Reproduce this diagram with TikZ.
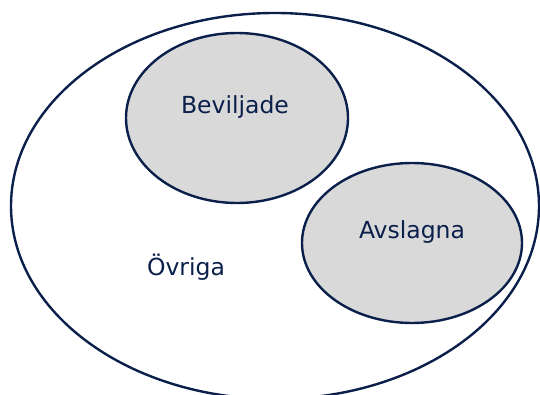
\documentclass[tikz,border=0pt]{standalone}
\usepackage{fontspec}
\setmainfont{DejaVu Sans}
\usepackage{tikz}
\usetikzlibrary{positioning}
\definecolor{navy}{HTML}{0B1F4B}
\definecolor{lightgrey}{HTML}{D9D9D9}
\begin{document}
\begin{tikzpicture}[x=1pt,y=-1pt]
\tikzstyle{every node}+=[inner sep=0pt,text=navy,font=\fontsize{23.5}{28}\selectfont]
\tikzstyle{set}=[draw=navy,line width=2.4pt]
\useasboundingbox (0,0) rectangle (540,395);
\draw [set] (275,206) ellipse [x radius=264,y radius=193];
\draw [set,fill=lightgrey] (237,118) ellipse [x radius=111,y radius=85];
\draw [set,fill=lightgrey] (412,243) ellipse [x radius=110,y radius=80];
\node (beviljade) [anchor=base] at (235,114) {Beviljade};
\node (avslagna) [anchor=base] at (412,238) {Avslagna};
\node (ovriga) [anchor=base] at (186,275) {Övriga};
\end{tikzpicture}
\end{document}
